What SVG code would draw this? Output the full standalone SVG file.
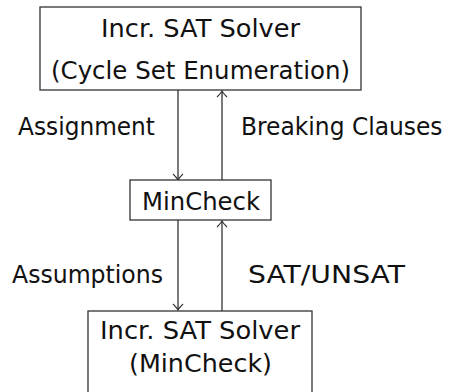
<svg xmlns="http://www.w3.org/2000/svg" width="451" height="392" viewBox="0 0 451 392">
  <style>
    .box { fill: #ffffff; stroke: #333333; stroke-width: 1.3; }
    .edge { fill: none; stroke: #333333; stroke-width: 1.3; }
    .lbl { font-family: "DejaVu Sans", "Liberation Sans", sans-serif; font-size: 25px; fill: #111111; }
  </style>
  <defs>
    <marker id="to" viewBox="-7 -6 9 12" markerWidth="9" markerHeight="12" refX="0" refY="0" orient="auto" markerUnits="userSpaceOnUse">
      <path d="M -6 -5 Q -2 -1 0 0 Q -2 1 -6 5" fill="none" stroke="#333333" stroke-width="1.1"/>
    </marker>
  </defs>
  <rect width="451" height="392" fill="#ffffff"/>

  <g id="connectors">
    <line class="edge" x1="178" y1="90" x2="178" y2="180" marker-end="url(#to)"/>
    <line class="edge" x1="222" y1="180" x2="222" y2="91" marker-end="url(#to)"/>
    <line class="edge" x1="178" y1="220" x2="178" y2="310" marker-end="url(#to)"/>
    <line class="edge" x1="222" y1="311" x2="222" y2="221" marker-end="url(#to)"/>
    <text class="lbl" x="18" y="135" textLength="137" lengthAdjust="spacingAndGlyphs">Assignment</text>
    <!-- narrowed horizontally so the label stays inside the right edge -->
    <text class="lbl" transform="translate(241 135) scale(0.935 1)" x="0" y="0">Breaking Clauses</text>
    <text class="lbl" x="12" y="283" textLength="151" lengthAdjust="spacingAndGlyphs">Assumptions</text>
    <text class="lbl" x="248" y="283" textLength="157" lengthAdjust="spacingAndGlyphs">SAT/UNSAT</text>
  </g>

  <g id="cycle-solver">
    <rect class="box" x="40" y="7" width="321" height="83"/>
    <text class="lbl" x="101" y="37" textLength="199" lengthAdjust="spacingAndGlyphs">Incr. SAT Solver</text>
    <text class="lbl" x="51" y="79" textLength="299" lengthAdjust="spacingAndGlyphs">(Cycle Set Enumeration)</text>
  </g>

  <g id="mincheck">
    <rect class="box" x="130" y="180" width="141" height="40"/>
    <text class="lbl" x="142" y="210" textLength="118" lengthAdjust="spacingAndGlyphs">MinCheck</text>
  </g>

  <g id="mincheck-solver">
    <rect class="box" x="88" y="311" width="224" height="90"/>
    <text class="lbl" x="100" y="339" textLength="200" lengthAdjust="spacingAndGlyphs">Incr. SAT Solver</text>
    <text class="lbl" x="129" y="372" textLength="143" lengthAdjust="spacingAndGlyphs">(MinCheck)</text>
  </g>
</svg>
